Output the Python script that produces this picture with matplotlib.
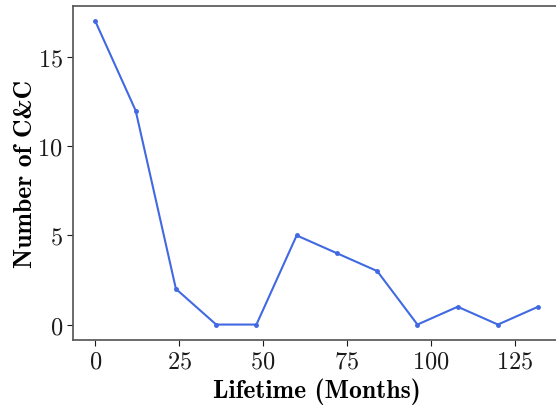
import matplotlib
matplotlib.use("Agg")
import matplotlib.pyplot as plt

# lifetime in months vs number of C&C
months = [0, 12, 24, 36, 48, 60, 72, 84, 96, 108, 120, 132]
counts = [17, 12, 2, 0, 0, 5, 4, 3, 0, 1, 0, 1]

plt.rcParams['mathtext.fontset'] = 'cm'
plt.rcParams['axes.formatter.use_mathtext'] = True
plt.rcParams['font.family'] = 'cmr10'
plt.rcParams['axes.unicode_minus'] = False

fig = plt.figure(figsize=(5.56, 4.06), dpi=100)
ax = fig.add_axes([0.1318, 0.1608, 0.876, 0.8212])

ax.plot(months, counts, color="royalblue", marker="o", markersize=2.5, linewidth=1.5)

ax.set_xlabel("Lifetime (Months)", family="cmb10", fontsize=18.5, labelpad=3.5)
ax.set_ylabel("Number of C&C", family="cmb10", fontsize=18.5, labelpad=0.5)
ax.set_xticks([0, 25, 50, 75, 100, 125])
ax.set_yticks([0, 5, 10, 15])
ax.tick_params(labelsize=17.5, colors="0.1", length=4)

for s in ax.spines.values():
    s.set_color("0.35")
    s.set_linewidth(1.25)

fig.savefig("out.png", dpi=100)
